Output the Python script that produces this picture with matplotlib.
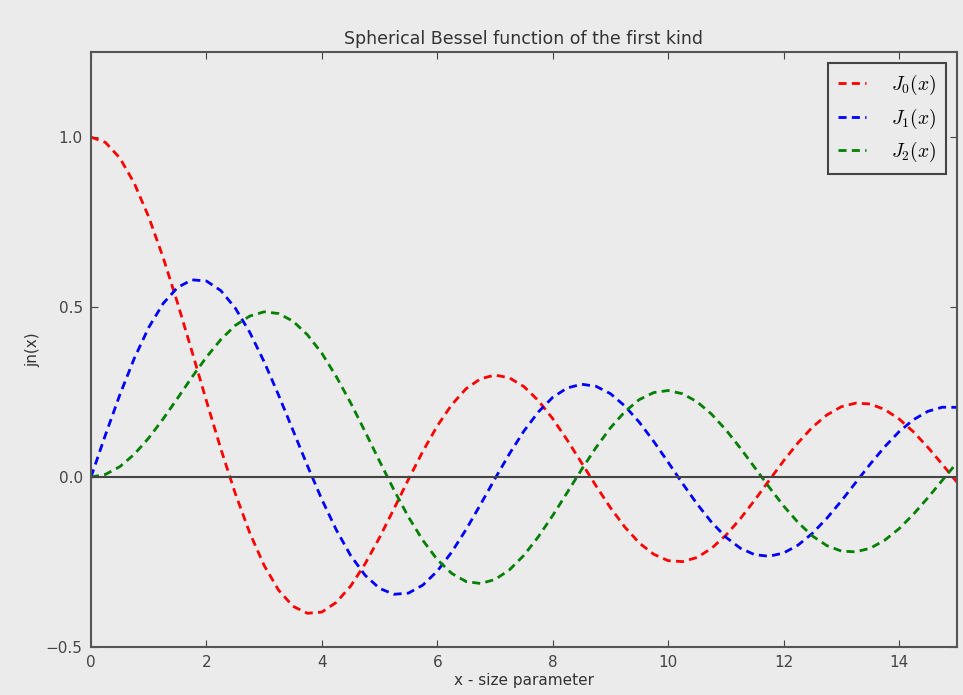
import matplotlib
matplotlib.use('Agg')
import matplotlib.pyplot as plt

# x samples (step 0.25) and values
x = [0.0, 0.25, 0.5, 0.75, 1.0, 1.25, 1.5, 1.75, 2.0, 2.25, 2.5, 2.75,
     3.0, 3.25, 3.5, 3.75, 4.0, 4.25, 4.5, 4.75, 5.0, 5.25, 5.5, 5.75,
     6.0, 6.25, 6.5, 6.75, 7.0, 7.25, 7.5, 7.75, 8.0, 8.25, 8.5, 8.75,
     9.0, 9.25, 9.5, 9.75, 10.0, 10.25, 10.5, 10.75, 11.0, 11.25, 11.5, 11.75,
     12.0, 12.25, 12.5, 12.75, 13.0, 13.25, 13.5, 13.75, 14.0, 14.25, 14.5, 14.75,
     15.0]

j0 = [1.0, 0.9844, 0.9385, 0.8642, 0.7652, 0.6459, 0.5118, 0.3690, 0.2239, 0.0827, -0.0484, -0.1640,
      -0.2601, -0.3326, -0.3801, -0.4007, -0.3971, -0.3686, -0.3205, -0.2550, -0.1776, -0.0931, -0.0068, 0.0758,
      0.1506, 0.2128, 0.2601, 0.2892, 0.3001, 0.2918, 0.2663, 0.2251, 0.1717, 0.1092, 0.0419, -0.0259,
      -0.0903, -0.1472, -0.1939, -0.2271, -0.2459, -0.2487, -0.2366, -0.2099, -0.1712, -0.1226, -0.0677, -0.0097,
      0.0477, 0.1008, 0.1469, 0.1827, 0.2069, 0.2176, 0.2150, 0.1989, 0.1711, 0.1330, 0.0875, 0.0374,
      -0.0142]

j1 = [0.0, 0.1240, 0.2423, 0.3492, 0.4401, 0.5106, 0.5579, 0.5802, 0.5767, 0.5484, 0.4971, 0.4260,
      0.3391, 0.2411, 0.1374, 0.0333, -0.0660, -0.1554, -0.2311, -0.2890, -0.3276, -0.3448, -0.3414, -0.3177,
      -0.2767, -0.2206, -0.1538, -0.0803, -0.0047, 0.0685, 0.1352, 0.1914, 0.2346, 0.2620, 0.2731, 0.2670,
      0.2453, 0.2090, 0.1613, 0.1048, 0.0435, -0.0190, -0.0789, -0.1324, -0.1768, -0.2092, -0.2284, -0.2329,
      -0.2234, -0.2002, -0.1655, -0.1211, -0.0703, -0.0161, 0.0380, 0.0888, 0.1334, 0.1688, 0.1934, 0.2055,
      0.2051]

j2 = [0.0, 0.0078, 0.0306, 0.0671, 0.1149, 0.1711, 0.2321, 0.2941, 0.3528, 0.4047, 0.4461, 0.4735,
      0.4861, 0.4810, 0.4586, 0.4185, 0.3641, 0.2955, 0.2178, 0.1333, 0.0466, -0.0383, -0.1173, -0.1863,
      -0.2429, -0.2834, -0.3074, -0.3130, -0.3014, -0.2729, -0.2303, -0.1757, -0.1130, -0.0457, 0.0223, 0.0869,
      0.1448, 0.1924, 0.2279, 0.2486, 0.2546, 0.2450, 0.2216, 0.1853, 0.1390, 0.0854, 0.0280, -0.0299,
      -0.0849, -0.1335, -0.1734, -0.2017, -0.2177, -0.2200, -0.2094, -0.1860, -0.1520, -0.1093, -0.0609, -0.0095,
      0.0416]

series = [(j0, 'red', r'$J_0(x)$'),
          (j1, 'blue', r'$J_1(x)$'),
          (j2, 'green', r'$J_2(x)$')]

plt.rcParams['mathtext.fontset'] = 'cm'
bg = '#ebebeb'
fig = plt.figure(figsize=(9.63, 6.95), dpi=100, facecolor=bg)
ax = fig.add_axes([0.0945, 0.069, 0.899, 0.856], facecolor=bg)

for ys, col, lab in series:
    ax.plot(x, ys, '--', color=col, lw=2.0, label=lab, dashes=(2.9, 1.9))

ax.axhline(0, color='#444444', lw=1.5)

ax.set_xlim(0, 15)
ax.set_ylim(-0.5, 1.25)
ax.set_xticks([0, 2, 4, 6, 8, 10, 12, 14])
ax.set_yticks([-0.5, 0.0, 0.5, 1.0])
ax.set_yticklabels(['\u22120.5', '0.0', '0.5', '1.0'])
ax.tick_params(direction='in', length=5, colors='#444444', labelsize=11,
               top=True, right=True, pad=6)
for s in ax.spines.values():
    s.set_color('#555555')
    s.set_linewidth(1.5)

ax.set_title('Spherical Bessel function of the first kind', fontsize=12.5,
             color='#333333', pad=6)
ax.set_xlabel('x - size parameter', fontsize=11, color='#333333', labelpad=2)
ax.set_ylabel('jn(x)', fontsize=11, color='#333333', labelpad=4)

leg = ax.legend(loc='upper right', fontsize=14, fancybox=False, framealpha=1,
                handlelength=1.45, labelspacing=0.5, borderpad=0.5,
                handletextpad=1.3, borderaxespad=0.55)
leg.get_frame().set_edgecolor('#444444')
leg.get_frame().set_linewidth(1.5)
leg.get_frame().set_facecolor(bg)

fig.savefig('out.png', dpi=100, facecolor=bg)
